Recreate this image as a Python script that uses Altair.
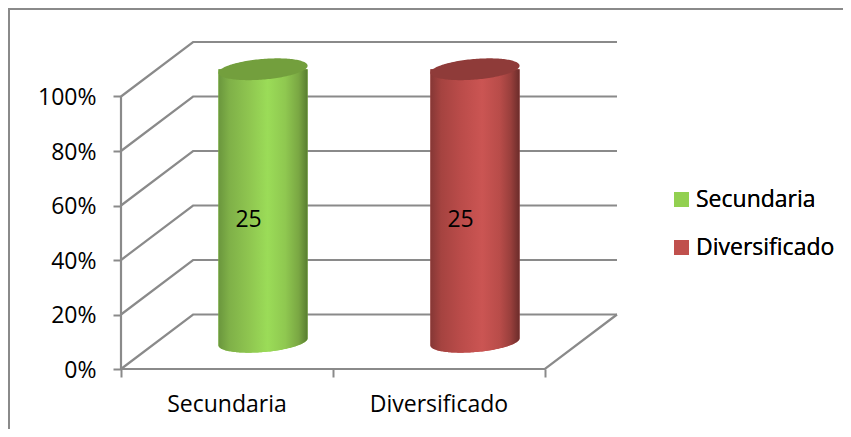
import numpy as np
import pandas as pd
import altair as alt

categories = ["Secundaria", "Diversificado"]
values = [25, 25]
shares = [1.0, 1.0]
tick_values = [0, 0.2, 0.4, 0.6, 0.8, 1.0]
colors = ["#92d050", "#c0504d"]
tops = ["#739f3d", "#8f3b39"]
stops = [
    [("#6a963d", 0), ("#7fb048", 0.12), ("#8fc650", 0.35), ("#9bdc58", 0.55), ("#8fc850", 0.75), ("#7aa743", 0.9), ("#587d30", 1)],
    [("#853735", 0), ("#a54340", 0.12), ("#bb4c4a", 0.35), ("#cb5553", 0.58), ("#b84c49", 0.78), ("#993f3c", 0.9), ("#6b2c2a", 1)],
]

DX, DY = 0.34, 0.2
FONT = "Open Sans"
FS = 23
GRAY = "#8a8a8a"
SW = 2.2
x_scale = alt.Scale(domain=[0, 2 + DX], nice=False, zero=False)
y_scale = alt.Scale(domain=[0, 1 + DY], nice=False, zero=False)
X = lambda f, **k: alt.X(f, type="quantitative", scale=x_scale, title=None, **k)
Y = lambda f, **k: alt.Y(f, type="quantitative", scale=y_scale, title=None, stack=None, **k)

# wall and floor lines, in axis units with a depth shift
rows = []
for v in tick_values:
    for i, (x, y) in enumerate([(0, v), (DX, v + DY), (2 + DX, v + DY)]):
        rows.append(dict(g=f"t{v}", o=i, x=x, y=y))
for i, (x, y) in enumerate([(0, 0), (2, 0), (2 + DX, DY)]):
    rows.append(dict(g="floor", o=i, x=x, y=y))
grid = alt.Chart(pd.DataFrame(rows)).mark_line(color=GRAY, strokeWidth=SW).encode(
    x=X("x", axis=alt.Axis(values=[0, 1, 2], labels=False, domain=False, grid=False, ticks=True,
                           tickSize=8, tickColor=GRAY, tickWidth=2)),
    y=Y("y", axis=alt.Axis(values=tick_values, format=".0%", domain=False, grid=False, tickSize=8,
                           tickColor=GRAY, tickWidth=2, labelFont=FONT, labelFontSize=FS,
                           labelColor="black", labelPadding=17, labelOffset=1)),
    detail="g:N", order="o:Q",
)
y_axis_line = alt.Chart(pd.DataFrame({"x": [0, 0], "y": [0, 1.0]})).mark_line(color=GRAY, strokeWidth=SW).encode(
    x=X("x"), y=Y("y"))

# cylinders: an oblique circle at the base and one at the value
A, B = 0.199, 0.2
W = np.hypot(A, B * DX)
PHI = np.arctan2(B * DX, A)
theta = np.linspace(np.pi, 0, 81)
s = np.cos(theta)
up = B * DY * np.sin(PHI + theta)
lo = B * DY * np.sin(PHI - theta)

layers = [grid, y_axis_line]
scale_color = alt.Scale(domain=categories, range=colors)
for i, cat in enumerate(categories):
    cx = i + 0.5 + 0.5 * DX
    cy = 0.5 * DY
    h = shares[i]
    body = pd.DataFrame({"series": cat, "x": cx + W * s, "y": cy + h, "y2": cy + lo})
    cap = pd.DataFrame({"x": cx + W * s, "y": cy + h + up, "y2": cy + h + lo})
    layers.append(alt.Chart(body).mark_area().encode(
        x=X("x"), y=Y("y"), y2="y2:Q",
        color=alt.Color("series:N", scale=scale_color, sort=categories, title=None,
                        legend=alt.Legend(orient="none", legendX=549, legendY=146, symbolType="square",
                                          symbolSize=225, symbolStrokeWidth=0, labelFont=FONT,
                                          labelFontSize=FS, labelColor="black", rowPadding=24,
                                          labelOffset=3, symbolOpacity=1))))
    layers.append(alt.Chart(body).mark_area(
        color=alt.Gradient(gradient="linear", x1=0, x2=1, y1=0, y2=0,
                           stops=[alt.GradientStop(color=c, offset=o) for c, o in stops[i]])
    ).encode(x=X("x"), y=Y("y"), y2="y2:Q"))
    layers.append(alt.Chart(cap).mark_area(color=tops[i]).encode(x=X("x"), y=Y("y"), y2="y2:Q"))

labels = pd.DataFrame({
    "t": [str(v) for v in values],
    "x": [i + 0.5 + 0.3 * DX for i in range(2)],
    "y": [0.5 * h + 0.24 * DY for h in shares],
})
layers.append(alt.Chart(labels).mark_text(font=FONT, fontSize=FS, color="black").encode(
    x=X("x"), y=Y("y"), text="t:N"))

cats = pd.DataFrame({"t": categories, "x": [0.5, 1.5], "y": [-0.132, -0.132]})
layers.append(alt.Chart(cats).mark_text(font=FONT, fontSize=FS, color="black").encode(
    x=X("x"), y=Y("y"), text="t:N"))

frame_l = alt.Chart(pd.DataFrame({"a": [0]})).mark_rule(color=GRAY, strokeWidth=2).encode(
    x=alt.value(-112), y=alt.value(-34), y2=alt.value(387))
frame_t = alt.Chart(pd.DataFrame({"a": [0]})).mark_rule(color=GRAY, strokeWidth=2).encode(
    x=alt.value(-113), x2=alt.value(722), y=alt.value(-33))
layers += [frame_l, frame_t]

chart = alt.layer(*layers).resolve_scale(color="independent").properties(
    width=496, height=327, autosize="none", background="white",
    padding={"left": 113, "top": 34, "right": 226, "bottom": 60},
).configure_view(stroke=None)
chart.save("out.html", embed_options={"renderer": "svg", "actions": False})
